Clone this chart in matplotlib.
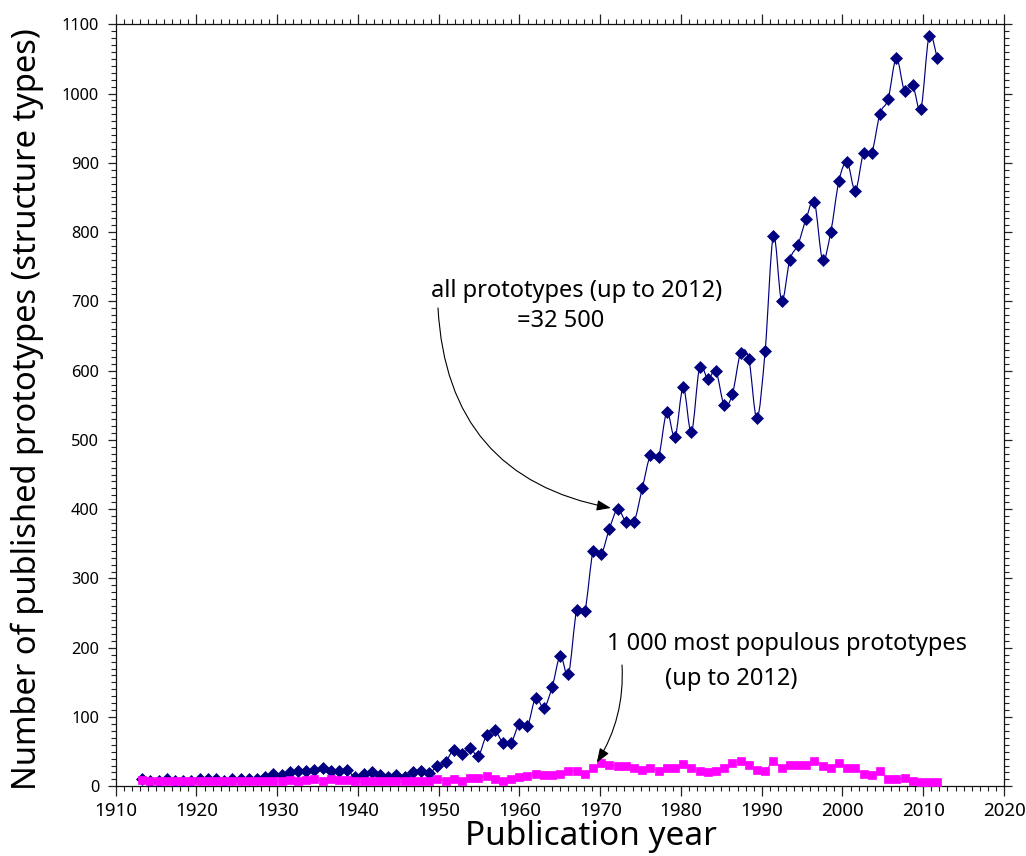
import numpy as np
import matplotlib
matplotlib.use("Agg")
import matplotlib.pyplot as plt
from matplotlib.path import Path
from matplotlib.patches import PathPatch

plt.rcParams['font.family'] = ['Noto Sans', 'DejaVu Sans']

# ---- data -------------------------------------------------------------
years = list(range(1915, 2013))

all_prototypes = [
    10, 8, 8, 10, 8, 8, 8, 10, 10, 10, 8, 11, 11, 10, 10, 14,
    18, 17, 20, 22, 22, 24, 26, 22, 22, 23,
    13, 18, 20, 16, 14, 16, 13, 20, 22, 19,
    29, 35, 53, 47, 55, 44, 74, 81, 63, 63,
    90, 87, 128, 113, 143, 188, 162, 254, 253, 339,
    335, 372, 400, 382, 382, 430, 478, 476, 540, 504,
    576, 511, 605, 588, 599, 550, 566, 625, 617, 531,
    629, 795, 701, 760, 782, 819, 844, 760, 800, 874,
    901, 860, 914, 914, 971, 992, 1051, 1004, 1012, 978,
    1083, 1051,
]

most_populous = [
    9, 7, 7, 7, 7, 7, 7, 8, 8, 8, 7, 8, 7, 7, 7, 8,
    8, 8, 9, 8, 9, 10, 8, 10, 9, 9,
    7, 7, 8, 8, 8, 7, 7, 8, 8, 8,
    10, 8, 11, 8, 12, 12, 15, 10, 8, 10,
    13, 15, 18, 16, 16, 18, 22, 22, 18, 26,
    34, 31, 30, 30, 27, 24, 27, 22, 26, 26,
    32, 26, 22, 20, 22, 26, 33, 36, 31, 24,
    22, 36, 27, 31, 31, 31, 36, 30, 26, 34,
    26, 26, 18, 16, 22, 10, 10, 12, 7, 6,
    6, 6,
]

x_ticks = [1910, 1920, 1930, 1940, 1950, 1960, 1970, 1980, 1990, 2000, 2010, 2020]
y_ticks = [0, 100, 200, 300, 400, 500, 600, 700, 800, 900, 1000, 1100]

NAVY = '#000080'
MAGENTA = '#FF00FF'


def smooth_path(x, y):
    """Catmull-Rom style Bezier curve through the points."""
    x = np.asarray(x, float)
    y = np.asarray(y, float)
    n = len(x)
    verts = [(x[0], y[0])]
    codes = [Path.MOVETO]
    for i in range(n - 1):
        i0 = max(i - 1, 0)
        i3 = min(i + 2, n - 1)
        c1 = (x[i] + (x[i + 1] - x[i0]) / 6.0, y[i] + (y[i + 1] - y[i0]) / 6.0)
        c2 = (x[i + 1] - (x[i3] - x[i]) / 6.0, y[i + 1] - (y[i3] - y[i]) / 6.0)
        verts += [c1, c2, (x[i + 1], y[i + 1])]
        codes += [Path.CURVE4] * 3
    return Path(verts, codes)


fig = plt.figure(figsize=(10.26, 8.56), dpi=100)
ax = fig.add_axes([0.11277, 0.08143, 0.86579, 0.89019])

# series axis (hidden), sharing the value scale
axd = ax.twiny()
axd.set_xlim(1911.755, 2020.14)
axd.xaxis.set_visible(False)
for s in axd.spines.values():
    s.set_visible(False)

axd.add_patch(PathPatch(smooth_path(years, all_prototypes), fill=False,
                        edgecolor=NAVY, lw=0.85, zorder=2))
axd.plot(years, all_prototypes, ls='none', marker='D', ms=6.0,
         color=NAVY, mec=NAVY, mew=0.5, zorder=3)

axd.add_patch(PathPatch(smooth_path(years, most_populous), fill=False,
                        edgecolor=MAGENTA, lw=0.85, zorder=4))
axd.plot(years, most_populous, ls='none', marker='s', ms=5.4,
         color=MAGENTA, mec=MAGENTA, mew=0.5, zorder=5)

# ---- main axis frame and ticks ----------------------------------------
ax.set_xlim(1910, 2020)
ax.set_ylim(0, 1100)
ax.set_xticks(x_ticks)
ax.set_xticklabels([str(v) for v in x_ticks])
ax.set_yticks(y_ticks)
ax.set_yticklabels([str(v) for v in y_ticks])
ax.set_xticks(np.arange(1910, 2021, 1), minor=True)
ax.set_yticks(np.arange(0, 1101, 10), minor=True)

for s in ax.spines.values():
    s.set_color('#111111')
    s.set_linewidth(0.9)

ax.tick_params(axis='x', which='both', direction='out', top=True, bottom=True,
               labeltop=False, colors='#222222', labelcolor='black')
ax.tick_params(axis='y', which='both', direction='out', left=True, right=True,
               labelright=False, colors='#222222', labelcolor='black')
ax.tick_params(axis='x', which='major', length=7.5, width=0.9, pad=4, labelsize=13.5)
ax.tick_params(axis='x', which='minor', length=3.8, width=0.8)
ax.tick_params(axis='y', which='major', length=5.5, width=0.9, pad=6.5, labelsize=11.8)
ax.tick_params(axis='y', which='minor', length=3.5, width=0.8)

# ---- axis titles --------------------------------------------------------
fig.text(36 / 1026, 1 - 409 / 856, 'Number of published prototypes (structure types)',
         rotation=90, rotation_mode='anchor', ha='center', va='baseline',
         fontsize=23.5, color='black')
fig.text(591 / 1026, 1 - 845 / 856, 'Publication year',
         ha='center', va='baseline', fontsize=24, color='black')

# ---- annotations --------------------------------------------------------
ax.text(1967.12, 706.3, 'all prototypes (up to 2012)', ha='center', va='baseline',
        fontsize=17, color='black')
ax.text(1965.14, 663.0, '=32 500', ha='center', va='baseline',
        fontsize=17, color='black')
ax.text(1970.84, 196.8, '1 000 most populous prototypes', ha='left', va='baseline',
        fontsize=17, color='black')
ax.text(1986.26, 146.2, '(up to 2012)', ha='center', va='baseline',
        fontsize=17, color='black')

arrow_kw = dict(arrowstyle='-|>,head_length=0.85,head_width=0.32',
                color='black', lw=0.8, shrinkA=0)

i_all = years.index(1973)
axd.annotate('', xy=(years[i_all], all_prototypes[i_all]), xycoords='data',
             xytext=(1949.91, 690.5), textcoords=ax.transData,
             arrowprops=dict(connectionstyle='arc3,rad=0.4', shrinkB=5, **arrow_kw),
             zorder=6)

i_pop = years.index(1970)
axd.annotate('', xy=(years[i_pop], most_populous[i_pop]), xycoords='data',
             xytext=(1972.70, 175.1), textcoords=ax.transData,
             arrowprops=dict(connectionstyle='arc3,rad=-0.17', shrinkB=5, **arrow_kw),
             zorder=6)

fig.savefig('out.png', dpi=100)
